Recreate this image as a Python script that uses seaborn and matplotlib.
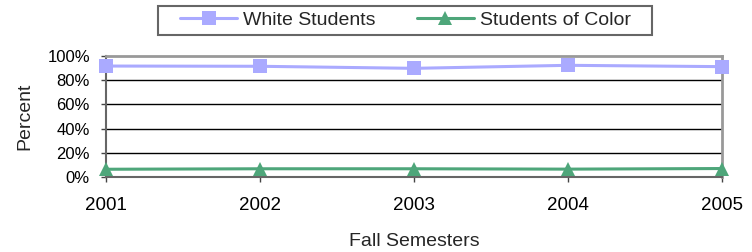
import matplotlib
matplotlib.use('Agg')
import matplotlib.pyplot as plt
from matplotlib.patches import Rectangle
from matplotlib.ticker import PercentFormatter
import seaborn as sns
import pandas as pd

years = ['2001', '2002', '2003', '2004', '2005']
white_students = [91.7, 91.5, 89.8, 92.3, 91.2]
students_of_color = [6.4, 6.8, 6.8, 6.5, 7.0]

df = pd.DataFrame({
    'year': years * 2,
    'pct': white_students + students_of_color,
    'group': ['White Students'] * 5 + ['Students of Color'] * 5,
})

sns.set_style('white')
plt.rcParams['font.family'] = ['Liberation Sans', 'DejaVu Sans']

W, H = 752, 252
fig = plt.figure(figsize=(W / 100, H / 100), dpi=100)
ax = fig.add_axes([106 / W, 1 - 177 / H, 616 / W, 121 / H])

palette = {'White Students': '#aaaaff', 'Students of Color': '#4ea67a'}
markers = {'White Students': 's', 'Students of Color': '^'}
sns.lineplot(data=df, x='year', y='pct', hue='group', style='group',
             palette=palette, markers=markers, dashes=False, sort=False,
             markersize=10, markeredgewidth=0, linewidth=2.2, ax=ax,
             clip_on=False, zorder=3)

ax.set_ylim(0, 100)
ax.set_xlim(0, 4)
ax.set_yticks(range(0, 101, 20))
ax.yaxis.set_major_formatter(PercentFormatter(decimals=0))
for y in range(20, 100, 20):
    ax.axhline(y, color='black', linewidth=1, zorder=0)
for s in ['top', 'right']:
    ax.spines[s].set_color('#999999')
    ax.spines[s].set_linewidth(2)
for s in ['left', 'bottom']:
    ax.spines[s].set_color('#666666')
    ax.spines[s].set_linewidth(1.5)
ax.tick_params(axis='both', colors='black', length=3.6, width=1,
               direction='out', bottom=True, left=True)
ax.tick_params(axis='x', labelsize=13.5, pad=10.5, color='#444444')
ax.tick_params(axis='y', labelsize=12, pad=8, color='#444444')
ax.set_xlabel('Fall Semesters', fontsize=14, labelpad=14)
ax.set_ylabel('Percent', fontsize=14, labelpad=10)

ax.legend_.remove()
handles, labels = ax.get_legend_handles_labels()
leg = fig.legend(handles, labels, loc='upper left',
                 bbox_to_anchor=(180 / W, 1 - 11 / H), ncol=2, frameon=False,
                 fontsize=14, handlelength=2.95, handletextpad=0.3,
                 columnspacing=2.1, borderpad=0, borderaxespad=0)
for h in leg.legend_handles:
    h.set_markersize(10)

# legend border box
fig.patches.append(Rectangle((158 / W, 1 - 35 / H), 494 / W, 29 / H,
                             transform=fig.transFigure, fill=False,
                             edgecolor='#666666', linewidth=1.5))

fig.savefig('out.png', dpi=100)
